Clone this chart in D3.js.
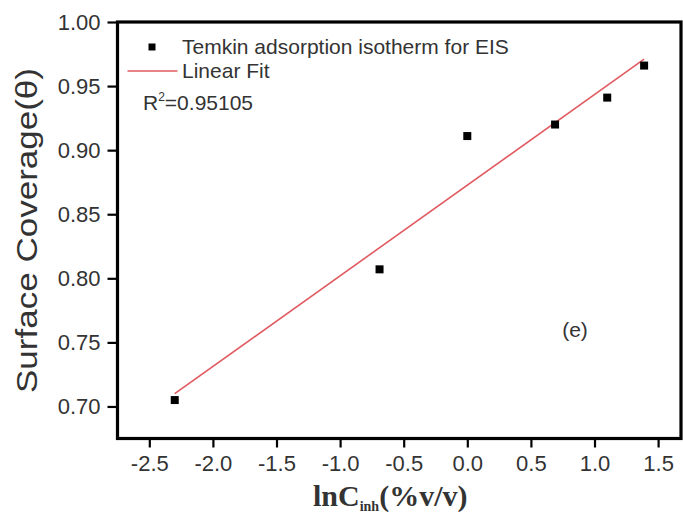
<!DOCTYPE html>
<html>
<head>
<meta charset="utf-8">
<script src="https://cdn.jsdelivr.net/npm/d3@7"></script>
<style>
	body { margin: 0; background: #fff; }
	text { font-family: "Liberation Sans", Arial, sans-serif; fill: #333; }
</style>
</head>
<body>
<div id="visual"></div>
<script>

///// DATA /////
var lnC = [-2.30, -0.69, 0.00, 0.69, 1.10, 1.39];
var coverage = [0.705, 0.807, 0.911, 0.920, 0.941, 0.966];

var fitX = [-2.30, 1.39];
var fitY = [0.710, 0.971];

var xTicks = [-2.5, -2.0, -1.5, -1.0, -0.5, 0.0, 0.5, 1.0, 1.5];
var yTicks = [0.70, 0.75, 0.80, 0.85, 0.90, 0.95, 1.00];

var legendKeys = ["Temkin adsorption isotherm for EIS", "Linear Fit"];
var rSquared = "0.95105";

///// DIMENSIONS /////
var margins = { left: 117.5, right: 2, top: 22, bottom: 76.5 };
var width = 683 - margins.left - margins.right,
	height = 515 - margins.top - margins.bottom;

var xScale = d3.scaleLinear()
	.domain([-2.75, 1.68])
	.range([0, width]);

var yScale = d3.scaleLinear()
	.domain([0.675, 1.0])
	.range([height, 0]);

var svg = d3.select('#visual')
	.append('svg')
	.attr('width', 683)
	.attr('height', 515);

var g = svg.append('g')
	.attr('transform', `translate(${margins.left},${margins.top})`);

///// FIT LINE /////
var line = d3.line()
	.x(d => xScale(d[0]))
	.y(d => yScale(d[1]));

g.append('path')
	.datum(fitX.map((x, i) => [x, fitY[i]]))
	.attr('d', line)
	.attr('fill', 'none')
	.attr('stroke', '#e05a60')
	.attr('stroke-width', 1.6);

///// POINTS /////
var size = 8;
g.selectAll('.pt')
	.data(lnC).enter().append('rect')
	.attr('class', 'pt')
	.attr('x', d => xScale(d) - size / 2)
	.attr('y', (d, i) => yScale(coverage[i]) - size / 2)
	.attr('width', size)
	.attr('height', size)
	.attr('fill', '#000');

///// AXES /////
// plain hyphen for negatives, like the original
var fmt1 = d => d3.format('.1f')(d).replace('\u2212', '-');

var xAxis = g.append('g')
	.attr('transform', `translate(0,${height})`)
	.call(d3.axisBottom(xScale)
		.tickValues(xTicks)
		.tickFormat(fmt1)
		.tickSize(9)
		.tickSizeOuter(0)
		.tickPadding(8));

var yAxis = g.append('g')
	.call(d3.axisLeft(yScale)
		.tickValues(yTicks)
		.tickFormat(d3.format('.2f'))
		.tickSize(10)
		.tickSizeOuter(0)
		.tickPadding(7));

[xAxis, yAxis].forEach(function(ax) {
	ax.select('.domain').remove();
	ax.selectAll('.tick line').attr('stroke', '#000').attr('stroke-width', 2.2);
	ax.selectAll('.tick text')
		.style('font-family', '"Liberation Sans", Arial, sans-serif')
		.style('font-size', '22px')
		.attr('fill', '#333');
});

// frame
g.append('rect')
	.attr('x', 0).attr('y', 0)
	.attr('width', width).attr('height', height)
	.attr('fill', 'none')
	.attr('stroke', '#000')
	.attr('stroke-width', 3.2);

///// LEGEND /////
var legend = g.append('g');

legend.append('rect')
	.attr('x', 31).attr('y', 21.5)
	.attr('width', 7).attr('height', 7)
	.attr('fill', '#000');

legend.append('line')
	.attr('x1', 10).attr('x2', 60)
	.attr('y1', 49).attr('y2', 49)
	.attr('stroke', '#e05a60')
	.attr('stroke-width', 1.6);

legend.selectAll('.lg')
	.data(legendKeys).enter().append('text')
	.attr('class', 'lg')
	.attr('x', 64.5)
	.attr('y', (d, i) => 32 + i * 24)
	.style('font-size', '21px')
	.text(d => d);

var r2 = legend.append('text')
	.attr('x', 25.5)
	.attr('y', 88)
	.style('font-size', '21px');
r2.append('tspan').text('R');
r2.append('tspan').attr('dy', -9).style('font-size', '12px').text('2');
r2.append('tspan').attr('dy', 9).text('=' + rSquared);

g.append('text')
	.attr('x', 457.5)
	.attr('y', 315)
	.attr('text-anchor', 'middle')
	.style('font-size', '21px')
	.text('(e)');

///// AXIS LABELS /////
svg.append('text')
	.attr('transform', 'translate(37,230.5) rotate(-90)')
	.attr('text-anchor', 'middle')
	.attr('textLength', 325)
	.attr('lengthAdjust', 'spacingAndGlyphs')
	.style('font-size', '30px')
	.text('Surface Coverage(θ)');

var xLabel = svg.append('text')
	.attr('x', 313)
	.attr('y', 506)
	.style('font-family', '"Liberation Serif", "Times New Roman", serif')
	.style('font-weight', 'bold')
	.style('font-size', '30px')
	.attr('fill', '#222');
xLabel.append('tspan').text('lnC');
xLabel.append('tspan').attr('dy', 5).style('font-size', '14px').text('inh');
xLabel.append('tspan').attr('dy', -5).text('(%v/v)');

</script>
</body>
</html>
